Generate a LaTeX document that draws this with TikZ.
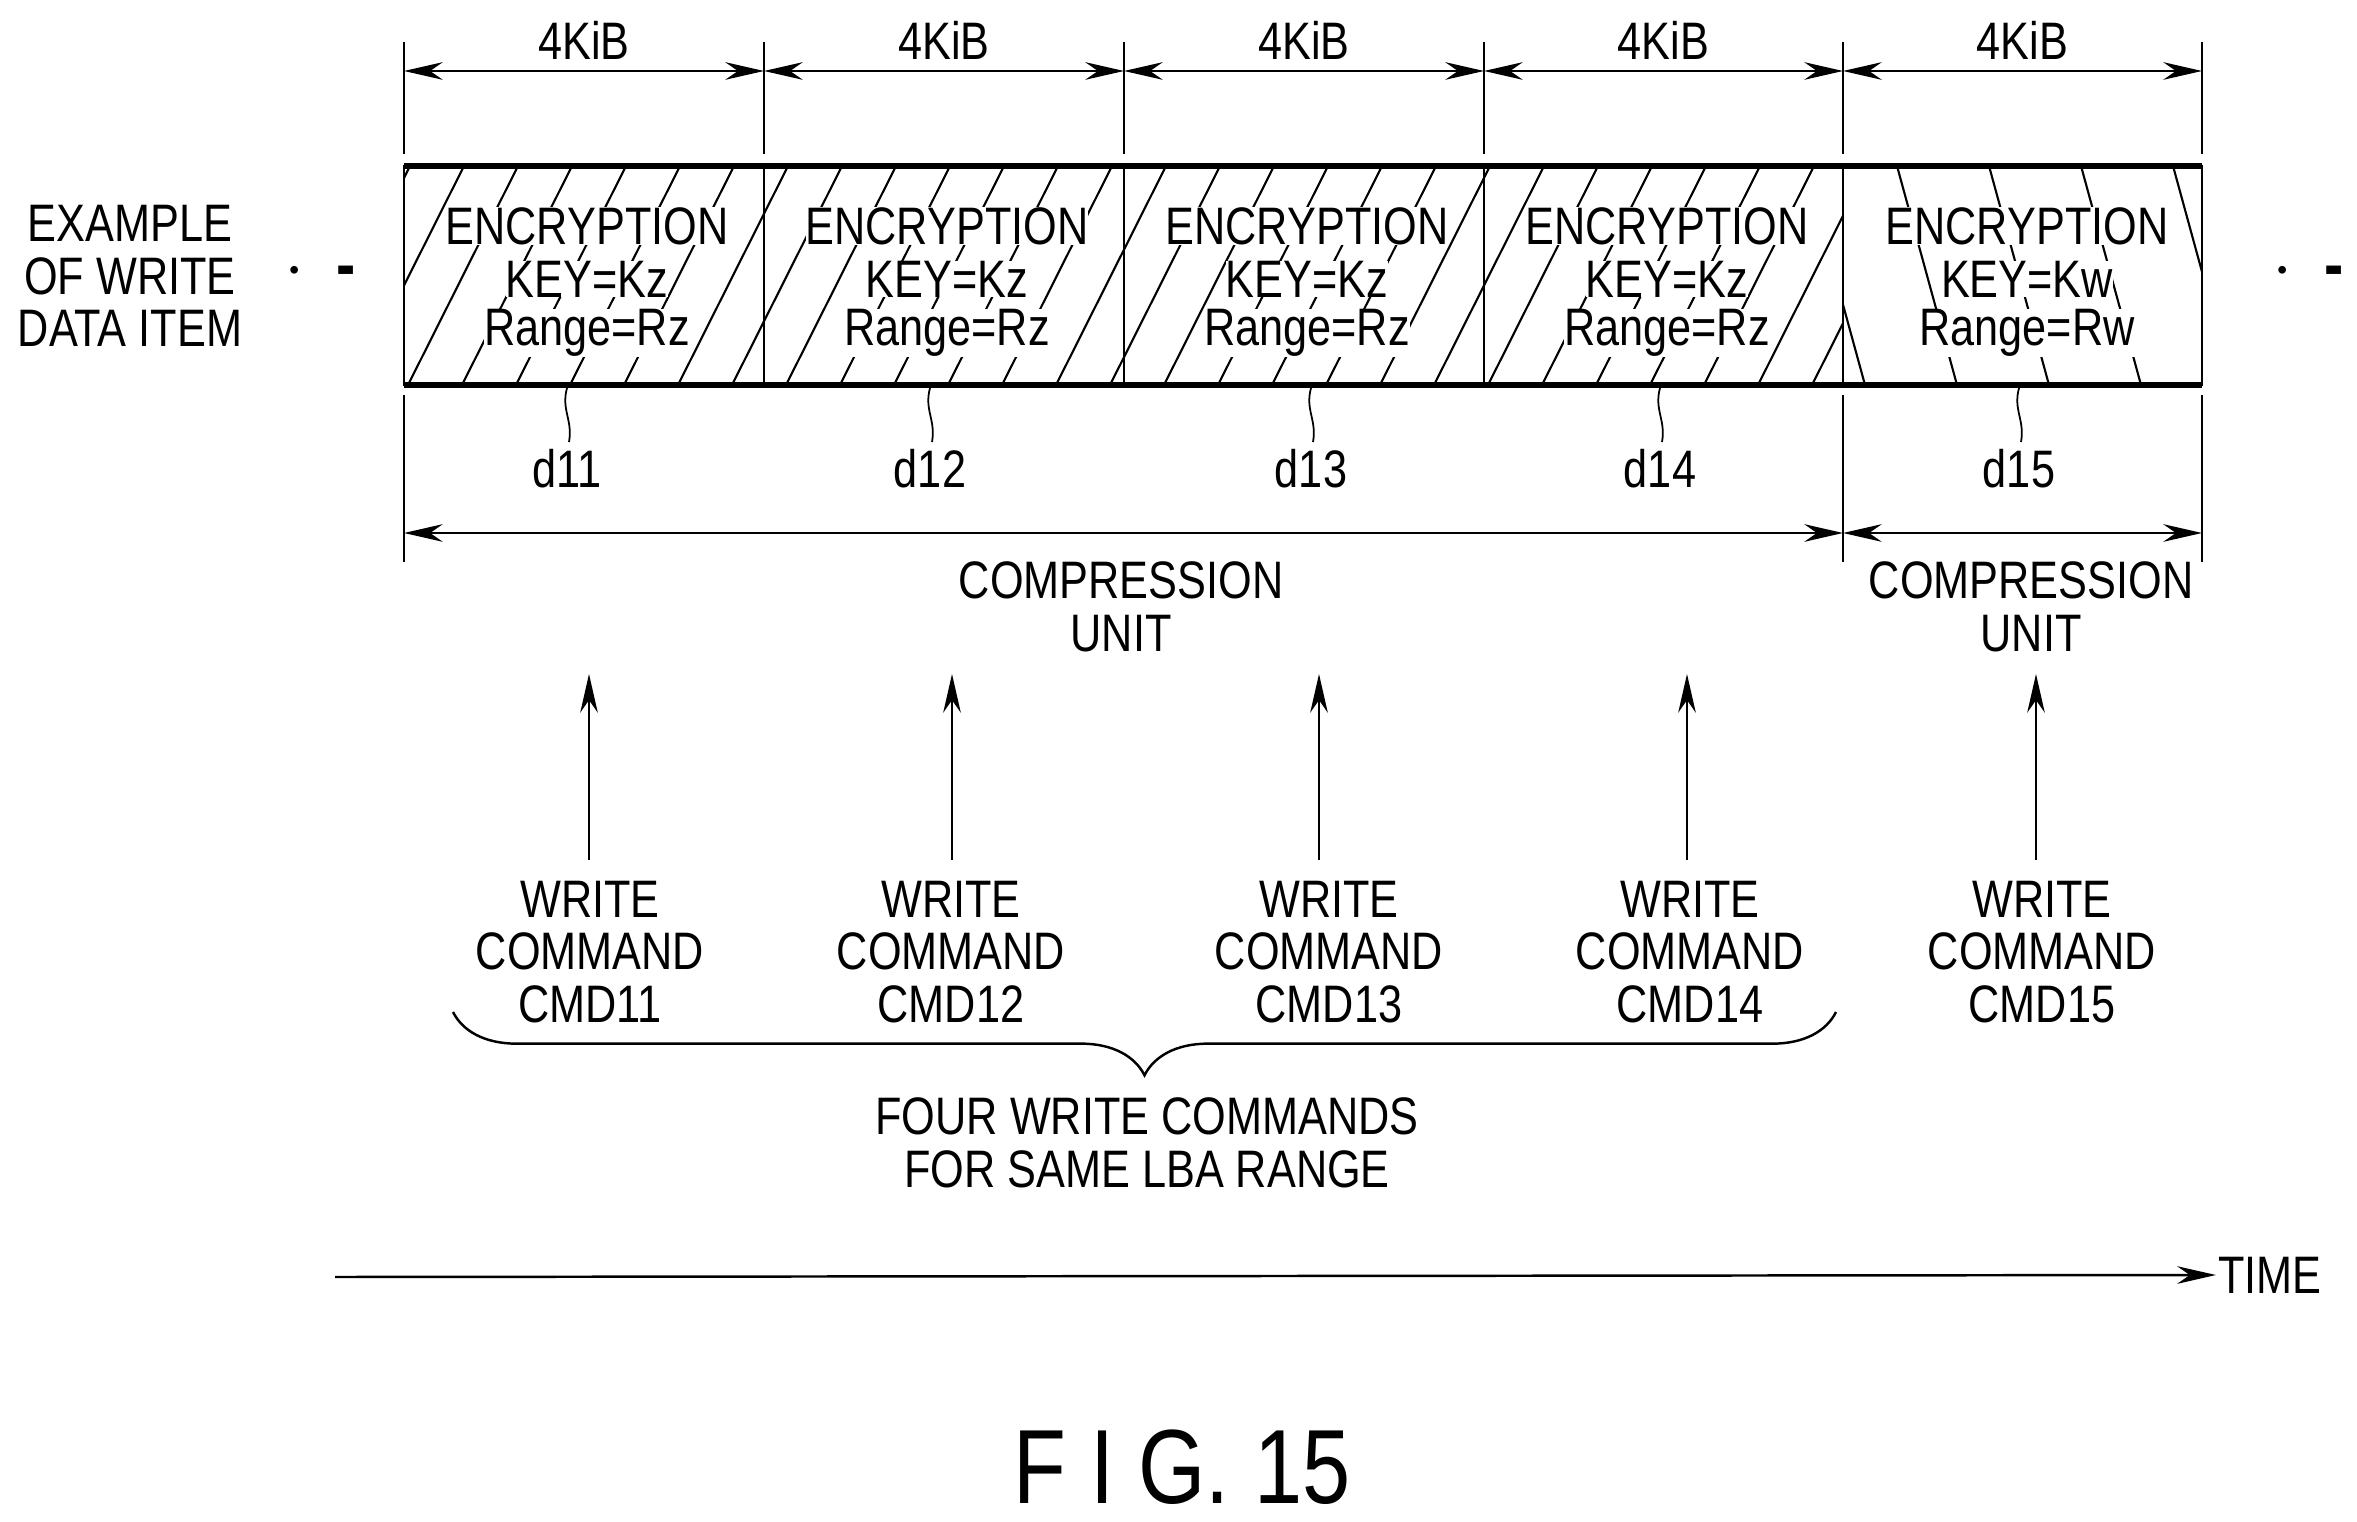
\documentclass[tikz,border=0pt]{standalone}
\usepackage{fontspec}
\setmainfont{Liberation Sans}[FakeStretch=0.82]
\usetikzlibrary{arrows.meta,decorations.pathreplacing}
\begin{document}
\begin{tikzpicture}[x=0.01cm,y=-0.01cm,
  txt/.style={font=\fontsize{15}{15}\selectfont, inner sep=0.5pt, align=center},
  btxt/.style={txt, fill=white, inner sep=0pt},
  ln/.style={line width=0.7pt},
  arr/.style={ln, {Stealth[length=11pt,width=5pt]}-{Stealth[length=11pt,width=5pt]}},
  up/.style={ln, -{Stealth[length=11pt,width=5pt]}},
  hatch/.style={line width=0.6pt}]
\useasboundingbox (0,0) rectangle (2357,1522);
% hatching
\begin{scope}
\clip (404,166) rectangle (1843,385);
\foreach \i in {0,...,30} \draw[hatch] ({300+\i*54},385) -- ++(110,-219);
\end{scope}
\begin{scope}
\clip (1843,166) rectangle (2202,385);
\foreach \i in {0,...,5} \draw[hatch] ({1805+\i*92},166) -- ++(60,219);
\end{scope}
% box
\draw[ln] (404,166) rectangle (2202,385);
\draw[line width=1.8pt] (404,166) -- (2202,166) (404,385) -- (2202,385);
\foreach \x in {764,1124,1484,1843} \draw[ln] (\x,166) -- (\x,385);
% ticks above
\foreach \x in {404,764,1124,1484,1843,2202} \draw[ln] (\x,42) -- (\x,154);
\foreach \x in {404,1843,2202} \draw[ln] (\x,395) -- (\x,562);
% 4KiB
\foreach \a/\b [count=\k] in {404/764,764/1124,1124/1484,1484/1843,1843/2202}{
  \coordinate (ka\k) at (\a,71); \coordinate (kb\k) at (\b,71);
  \draw[arr] (ka\k) -- (kb\k);
  \node[txt] (kib\k) at ({(\a+\b)/2},40) {4KiB};
}
% texts in boxes
\foreach \c/\kk/\r [count=\k] in {587/Kz/Rz,947/Kz/Rz,1307/Kz/Rz,1667/Kz/Rz,2027/Kw/Rw}{
  \node[btxt] (e\k) at (\c,226) {ENCRYPTION};
  \node[btxt] (key\k) at (\c,279) {KEY=\kk};
  \node[btxt] (rg\k) at (\c,333) {Range=\r};
}
% squiggles and d labels
\foreach \x/\l [count=\k] in {567/d11,930/d12,1311/d13,1660/d14,2019/d15}{
  \coordinate (s\k) at (\x,388);
  \node[txt] (d\k) at (\x,469) {\l};
  \draw[line width=0.5pt] (s\k) .. controls (\x-6,410) and (\x+6,420) .. (\x+2,442);
}
% compression units
\coordinate (c1a) at (404,533); \coordinate (c1b) at (1843,533);
\coordinate (c2a) at (1843,533); \coordinate (c2b) at (2202,533);
\draw[arr] (c1a) -- (c1b);
\draw[arr] (c2a) -- (c2b);
\node[txt] (cu1) at (1121,607) {COMPRESSION\\UNIT};
\node[txt] (cu2) at (2031,607) {COMPRESSION\\UNIT};
% commands
\foreach \x/\t [count=\k] in {590/11,951/12,1329/13,1690/14,2042/15}{
  \node[txt] (w\k) at (\x,952) {WRITE\\COMMAND\\CMD\t};
}
\foreach \x [count=\k] in {589,952,1319,1687,2036}{
  \coordinate (ua\k) at (\x,860); \coordinate (ub\k) at (\x,674);
  \draw[up] (ua\k) -- (ub\k);
}
% brace
\coordinate (br1) at (1836,1012); \coordinate (br2) at (453,1012);
\draw[ln, decorate, decoration={brace, amplitude=18pt}] (br1) -- (br2);
\node[txt] (four) at (1147,1143) {FOUR WRITE COMMANDS\\FOR SAME LBA RANGE};
% time
\node[txt] (time) at (2270,1275) {TIME};
\coordinate (t0) at (335,1277);
\draw[up] (t0) -- (time.west);
% left label
\node[txt] (ex) at (130,276) {EXAMPLE\\OF WRITE\\DATA ITEM};
\node[txt, font=\fontsize{20}{20}\selectfont] (dl) at (320,272) {$\cdot$\;\,\textbf{-}};
\node[txt, font=\fontsize{20}{20}\selectfont] (dr) at (2308,272) {$\cdot$\;\,\textbf{-}};
% figure caption
\node[font=\fontsize{30}{30}\selectfont, anchor=base] (fig) at (1182,1503) {F I G. 15};
\end{tikzpicture}
\end{document}
